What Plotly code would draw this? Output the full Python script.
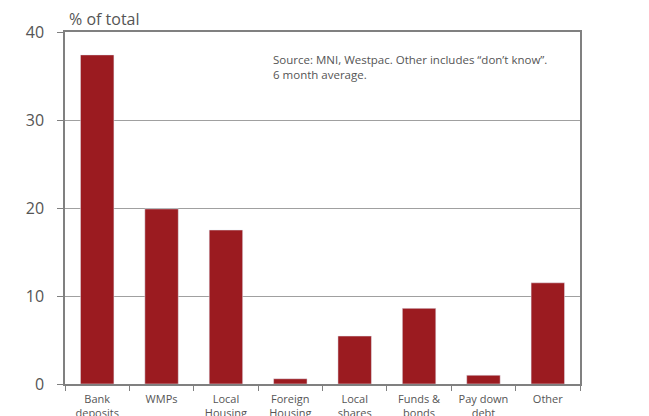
import plotly.graph_objects as go

categories = ["Bank<br>deposits", "WMPs", "Local<br>Housing", "Foreign<br>Housing",
              "Local<br>shares", "Funds &<br>bonds", "Pay down<br>debt", "Other"]
values = [37.4, 19.9, 17.5, 0.6, 5.45, 8.6, 1.0, 11.5]
y_ticks = [0, 10, 20, 30, 40]

fig = go.Figure(go.Bar(x=categories, y=values, marker_color="#9B1B20", width=0.52))

fig.update_layout(
    width=649, height=416,
    margin=dict(l=65, r=69, t=32, b=32),
    plot_bgcolor="white", paper_bgcolor="white",
    font=dict(family="Open Sans", color="#555555"),
    showlegend=False,
    bargap=0.48,
)
fig.update_yaxes(
    range=[0, 40], tickvals=y_ticks, showgrid=True, gridcolor="#a0a0a0", gridwidth=1,
    showline=True, linecolor="#808080", linewidth=1.5, mirror=True,
    ticks="outside", ticklen=6, tickcolor="#808080", ticklabelstandoff=10,
    tickfont=dict(size=16, color="#555555"), zeroline=False,
)
fig.update_xaxes(
    showline=True, linecolor="#808080", linewidth=1.5, mirror=True,
    ticks="outside", tickson="boundaries", ticklen=5, tickcolor="#808080",
    ticklabelstandoff=4,
    tickfont=dict(size=11, color="#555555"), automargin=False,
)
fig.add_annotation(xref="paper", yref="paper", x=0, y=1.0, xanchor="left", yanchor="bottom",
                   text="% of total", showarrow=False, font=dict(size=16, color="#555555"),
                   xshift=2, yshift=0)
fig.add_annotation(xref="paper", yref="paper", x=0.40, y=0.95, xanchor="left", yanchor="top",
                   text="Source: MNI, Westpac. Other includes “don’t know”.<br>6 month average.",
                   showarrow=False, align="left", font=dict(size=11.5, color="#555555"))

fig.write_html("out.html")
